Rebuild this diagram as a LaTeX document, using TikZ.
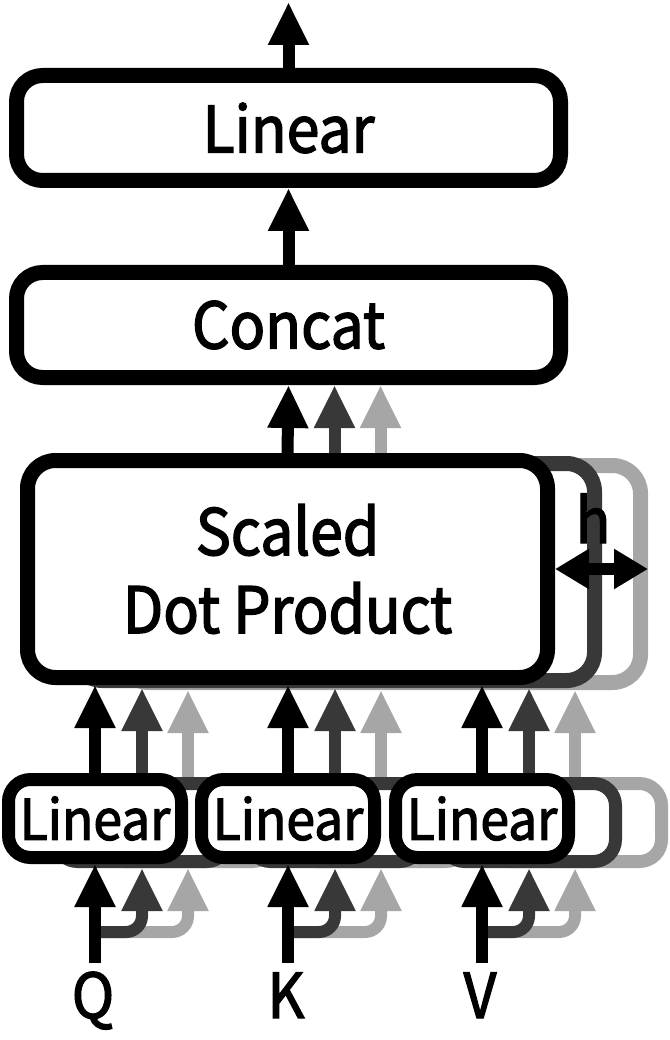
\documentclass[tikz,border=0pt]{standalone}
\usepackage{fontspec}
\setmainfont{Noto Sans CJK SC}[FakeStretch=0.92, FakeBold=2.2]
\usetikzlibrary{arrows.meta}
\definecolor{dk}{HTML}{383838}
\definecolor{lt}{HTML}{A6A6A6}
\begin{document}
\begin{tikzpicture}[x=1pt,y=-1pt,
  bigbox/.style={draw, line width=15pt, rounded corners=26pt, fill=white,
    minimum width=544pt, minimum height=105pt, inner sep=0pt,
    font=\fontsize{64}{78}\selectfont},
  sdpbox/.style={draw, line width=15pt, rounded corners=28pt, fill=white,
    minimum width=520pt, minimum height=217pt, inner sep=0pt, align=center,
    font=\fontsize{64}{78}\selectfont},
  smallbox/.style={draw, line width=13pt, rounded corners=22pt, fill=white,
    minimum width=173pt, minimum height=78pt, inner sep=0pt,
    font=\fontsize{56}{60}\selectfont},
  arr/.style={line width=12pt, -{Triangle[length=43pt,width=38pt]}},
  harr/.style={line width=12pt, {Triangle[length=34pt,width=38pt]}-{Triangle[length=34pt,width=38pt]}},
  lbl/.style={anchor=base, inner sep=0pt, font=\fontsize{62}{78}\selectfont}
]
\useasboundingbox (0,0) rectangle (669,1040);

% ---------- light gray layer ----------
\node[sdpbox, draw=lt] (lsdp) at (380.5,574) {};
\foreach \n/\x in {q/95,k/288,v/482}{
  \node[smallbox, draw=lt] (l\n) at (\x+93,822.5) {};
}
% ---------- dark gray layer ----------
\node[sdpbox, draw=dk] (dsdp) at (334.5,572) {};
\foreach \n/\x in {q/95,k/288,v/482}{
  \node[smallbox, draw=dk] (d\n) at (\x+47,822.5) {};
}
% light arrows
\foreach \n in {q,k,v}{
  \draw[arr, lt] (l\n.north) -- (l\n.north |- lsdp.south);
}
\draw[arr, lt] (lsdp.north) -- (lsdp.north |- 0,385);
% dark arrows
\foreach \n in {q,k,v}{
  \draw[arr, dk] (d\n.north) -- (d\n.north |- dsdp.south);
}
\draw[arr, dk] (dsdp.north) -- (dsdp.north |- 0,385);

% ---------- black layer ----------
\node[bigbox] (lin) at (288.5,128) {Linear};
\node[bigbox] (cat) at (288.5,325) {Concat};
\node[sdpbox] (sdp) at (287.5,569) {Scaled\\Dot Product};
\node[smallbox] (q) at (95,818.5) {Linear};
\node[smallbox] (k) at (288,818.5) {Linear};
\node[smallbox] (v) at (482,818.5) {Linear};

\coordinate (out) at (288.5,2);
\draw[arr] (lin.north) -- (out);
\draw[arr] (cat.north) -- (lin.south);
\draw[arr] (sdp.north) -- (cat.south);
\foreach \n in {q,k,v}{
  \draw[arr] (\n.north) -- (\n.north |- sdp.south);
}

% inputs
\foreach \n/\x/\t in {q/95/Q,k/288/K,v/482/V}{
  \coordinate (\n in) at (\x,963);
  \coordinate (\n j) at (\x,932);
  \draw[arr, lt, rounded corners=16pt] (\n j) -| (l\n.south);
  \draw[arr, dk, rounded corners=16pt] (\n j) -| (d\n.south);
  \draw[arr] (\n in) -- (\n.south);
  \node[lbl] (\n lab) at (\x-2,1018) {\t};
}

% h
\node[lbl] (h) at (593,543) {h};
\draw[harr] (sdp.east) -- (lsdp.east |- sdp.east);
\end{tikzpicture}
\end{document}
